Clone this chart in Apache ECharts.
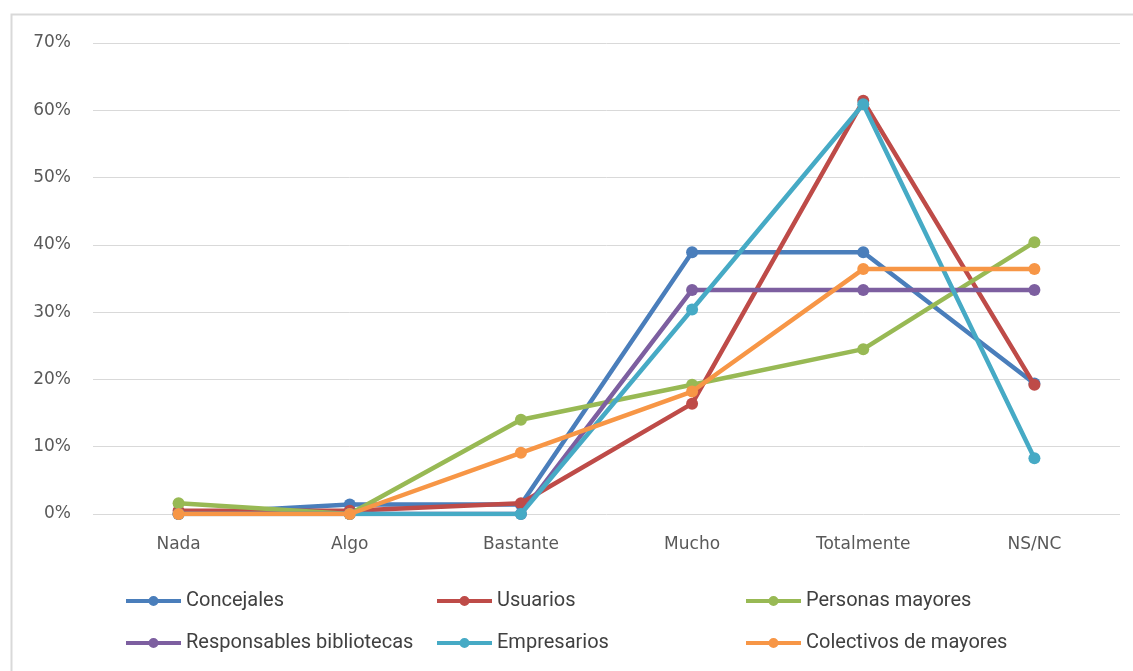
<!DOCTYPE html>
<html>
<head>
<meta charset="utf-8">
<script src="https://cdn.jsdelivr.net/npm/echarts@6/dist/echarts.min.js"></script>
<style>
  html, body { margin: 0; padding: 0; background: #fff; }
  #chart { width: 1133px; height: 671px; }
</style>
</head>
<body>
<div id="chart"></div>
<script>
var categorias = ['Nada', 'Algo', 'Bastante', 'Mucho', 'Totalmente', 'NS/NC'];
var yTicks = ['0%', '10%', '20%', '30%', '40%', '50%', '60%', '70%'];

// valores en %
var concejales   = [0, 1.4, 1.4, 38.9, 38.9, 19.4];
var usuarios     = [0.5, 0.5, 1.6, 16.4, 61.4, 19.2];
var personas     = [1.6, 0, 14.0, 19.2, 24.5, 40.4];
var responsables = [0, 0, 0, 33.3, 33.3, 33.3];
var empresarios  = [0, 0, 0, 30.4, 60.9, 8.3];
var colectivos   = [0, 0, 9.1, 18.2, 36.4, 36.4];

var nombres = ['Concejales', 'Usuarios', 'Personas mayores',
  'Responsables bibliotecas', 'Empresarios', 'Colectivos de mayores'];
var valores = [concejales, usuarios, personas, responsables, empresarios, colectivos];
var colores = ['#4A7EBB', '#BE4B48', '#98B954', '#7D5FA0', '#46AAC5', '#F79646'];

var myChart = echarts.init(document.getElementById('chart'));

var series = nombres.map(function (n, i) {
  return {
    name: n,
    type: 'line',
    data: valores[i],
    symbol: 'circle',
    symbolSize: 12,
    lineStyle: { width: 4.5, color: colores[i] },
    itemStyle: { color: colores[i] },
    z: 2 + i
  };
});

// linea con punto, como en la leyenda de Excel
var iconoLinea = 'path://M0,3 L23,3 L23,7 L0,7 Z M32,3 L55,3 L55,7 L32,7 Z ' +
  'M22.5,5 A5,5 0 1,1 32.5,5 A5,5 0 1,1 22.5,5 Z';

function leyenda(left, items) {
  return {
    orient: 'vertical',
    left: left,
    top: 586,
    itemGap: 22,
    itemWidth: 55,
    itemHeight: 10,
    icon: iconoLinea,
    data: items,
    textStyle: { fontFamily: 'Roboto, sans-serif', fontSize: 20, color: '#404040' },
    selectedMode: false
  };
}

myChart.setOption({
  backgroundColor: '#fff',
  animation: false,
  graphic: [{
    type: 'rect',
    shape: { x: 11.5, y: 14.5, width: 1200, height: 700 },
    style: { fill: 'none', stroke: '#d9d9d9', lineWidth: 2 }
  }],
  grid: { left: 93, right: 13, top: 43, bottom: 157 },
  legend: [
    leyenda(121, [nombres[0], nombres[3]]),
    leyenda(432, [nombres[1], nombres[4]]),
    leyenda(741, [nombres[2], nombres[5]])
  ],
  xAxis: {
    type: 'category',
    data: categorias,
    boundaryGap: true,
    axisLine: { show: false },
    axisTick: { show: false },
    axisLabel: { color: '#595959', fontSize: 17, fontFamily: 'DejaVu Sans, sans-serif', margin: 22 }
  },
  yAxis: {
    type: 'value',
    min: 0,
    max: 70,
    interval: 10,
    axisLine: { show: false },
    axisTick: { show: false },
    axisLabel: {
      color: '#595959', fontSize: 17, fontFamily: 'DejaVu Sans, sans-serif', margin: 22,
      formatter: function (v) { return yTicks[Math.round(v / 10)]; }
    },
    splitLine: { lineStyle: { color: '#d9d9d9', width: 1 } }
  },
  series: series
});
</script>
</body>
</html>
